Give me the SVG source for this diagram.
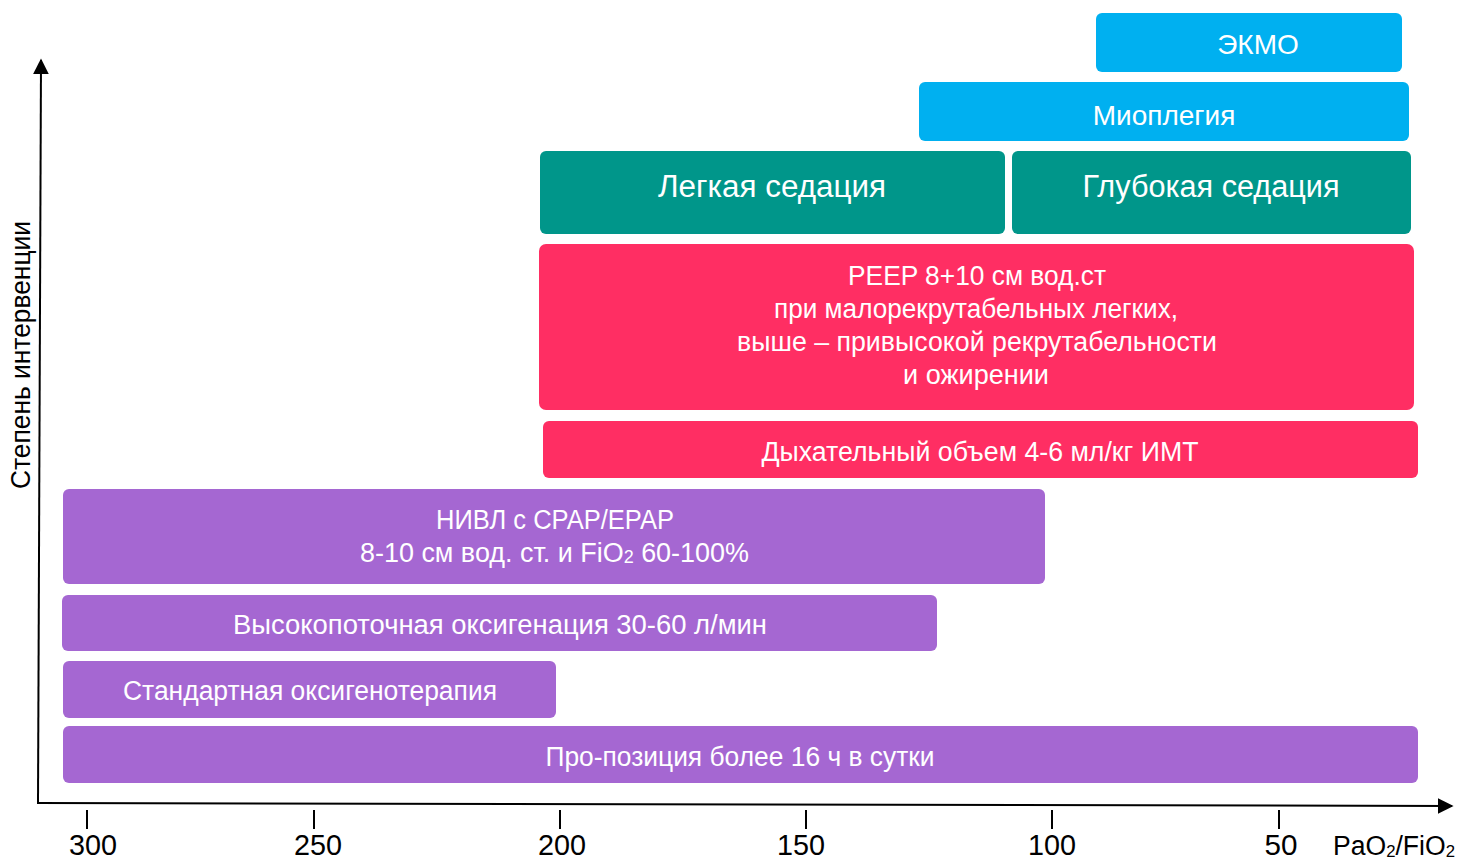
<svg xmlns="http://www.w3.org/2000/svg" width="1473" height="860" viewBox="0 0 1473 860">
<defs>
<style>
.t{font-family:"Liberation Sans",Arial,sans-serif;fill:#fff;text-anchor:middle}
.ts{font-family:"Liberation Sans",Arial,sans-serif;fill:#fff}
.ax{font-family:"Liberation Sans",Arial,sans-serif;fill:#000}
.blue{fill:#00b0f0}
.teal{fill:#00968a}
.red{fill:#ff2e63}
.purple{fill:#a567d2}
.tick{stroke:#000;stroke-width:2}
</style>
<marker id="ah2" viewBox="0 0 10 10" refX="9" refY="5" markerWidth="16" markerHeight="16" orient="auto" markerUnits="userSpaceOnUse">
<path d="M0,0 L10,5 L0,10 z" fill="#000"/>
</marker>
</defs>

<g id="connectors">
<line x1="38" y1="803" x2="41" y2="60" stroke="#000" stroke-width="2" marker-end="url(#ah2)"/>
<line x1="37" y1="803" x2="1452" y2="806" stroke="#000" stroke-width="2" marker-end="url(#ah2)"/>
</g>

<g id="axis-y-label">
<text class="ax" font-size="27" transform="translate(30,355) rotate(-90)" text-anchor="middle" textLength="268" lengthAdjust="spacingAndGlyphs">Степень интервенции</text>
</g>

<g id="axis-x-ticks">
<line class="tick" x1="87" y1="810" x2="87" y2="829"/>
<line class="tick" x1="314" y1="810" x2="314" y2="829"/>
<line class="tick" x1="560" y1="810" x2="560" y2="829"/>
<line class="tick" x1="806" y1="810" x2="806" y2="829"/>
<line class="tick" x1="1052" y1="810" x2="1052" y2="829"/>
<line class="tick" x1="1279" y1="810" x2="1279" y2="829"/>
<text class="ax" font-size="30" x="93" y="855" text-anchor="middle" textLength="48" lengthAdjust="spacingAndGlyphs">300</text>
<text class="ax" font-size="30" x="318" y="855" text-anchor="middle" textLength="48" lengthAdjust="spacingAndGlyphs">250</text>
<text class="ax" font-size="30" x="562" y="855" text-anchor="middle" textLength="48" lengthAdjust="spacingAndGlyphs">200</text>
<text class="ax" font-size="30" x="801" y="855" text-anchor="middle" textLength="48" lengthAdjust="spacingAndGlyphs">150</text>
<text class="ax" font-size="30" x="1052" y="855" text-anchor="middle" textLength="48" lengthAdjust="spacingAndGlyphs">100</text>
<text class="ax" font-size="30" x="1281" y="855" text-anchor="middle" textLength="33" lengthAdjust="spacingAndGlyphs">50</text>
<text class="ax" font-size="27" x="1333" y="855" textLength="122" lengthAdjust="spacingAndGlyphs">PaO<tspan font-size="17" dy="2">2</tspan><tspan dy="-2">/FiO</tspan><tspan font-size="17" dy="2">2</tspan></text>
</g>

<g id="node-ecmo">
<rect class="blue" x="1096" y="13" width="306" height="59" rx="6"/>
<text class="t" font-size="28" x="1258" y="54">ЭКМО</text>
</g>

<g id="node-myoplegia">
<rect class="blue" x="919" y="82" width="490" height="59" rx="6"/>
<text class="t" font-size="28" x="1164" y="125">Миоплегия</text>
</g>

<g id="node-light-sedation">
<rect class="teal" x="540" y="151" width="465" height="83" rx="6"/>
<text class="t" font-size="31" x="772" y="197" textLength="228" lengthAdjust="spacingAndGlyphs">Легкая седация</text>
</g>

<g id="node-deep-sedation">
<rect class="teal" x="1012" y="151" width="399" height="83" rx="6"/>
<text class="t" font-size="31" x="1211" y="197" textLength="257" lengthAdjust="spacingAndGlyphs">Глубокая седация</text>
</g>

<g id="node-peep">
<rect class="red" x="539" y="244" width="875" height="166" rx="7"/>
<text class="t" font-size="27" x="977" y="285" textLength="258" lengthAdjust="spacingAndGlyphs">PEEP 8+10 см вод.ст</text>
<text class="t" font-size="27" x="976" y="318" textLength="404" lengthAdjust="spacingAndGlyphs">при малорекрутабельных легких,</text>
<text class="t" font-size="27" x="977" y="351" textLength="480" lengthAdjust="spacingAndGlyphs">выше – привысокой рекрутабельности</text>
<text class="t" font-size="27" x="976" y="384" textLength="146" lengthAdjust="spacingAndGlyphs">и ожирении</text>
</g>

<g id="node-tidal-volume">
<rect class="red" x="543" y="421" width="875" height="57" rx="6"/>
<text class="t" font-size="27" x="980" y="461" textLength="437" lengthAdjust="spacingAndGlyphs">Дыхательный объем 4-6 мл/кг ИМТ</text>
</g>

<g id="node-nivl">
<rect class="purple" x="63" y="489" width="982" height="95" rx="6"/>
<text class="t" font-size="27" x="555" y="529" textLength="238" lengthAdjust="spacingAndGlyphs">НИВЛ с CPAP/EPAP</text>
<text class="ts" font-size="27" x="360" y="562" textLength="389" lengthAdjust="spacingAndGlyphs">8-10 см вод. ст. и FiO<tspan font-size="18" dy="1">2</tspan><tspan dy="-1"> 60-100%</tspan></text>
</g>

<g id="node-hfo">
<rect class="purple" x="62" y="595" width="875" height="56" rx="6"/>
<text class="t" font-size="27" x="500" y="634" textLength="534" lengthAdjust="spacingAndGlyphs">Высокопоточная оксигенация 30-60 л/мин</text>
</g>

<g id="node-standard-o2">
<rect class="purple" x="63" y="661" width="493" height="57" rx="6"/>
<text class="t" font-size="27" x="310" y="700" textLength="374" lengthAdjust="spacingAndGlyphs">Стандартная оксигенотерапия</text>
</g>

<g id="node-prone">
<rect class="purple" x="63" y="726" width="1355" height="57" rx="6"/>
<text class="t" font-size="27" x="740" y="766" textLength="389" lengthAdjust="spacingAndGlyphs">Про-позиция более 16 ч в сутки</text>
</g>
</svg>
